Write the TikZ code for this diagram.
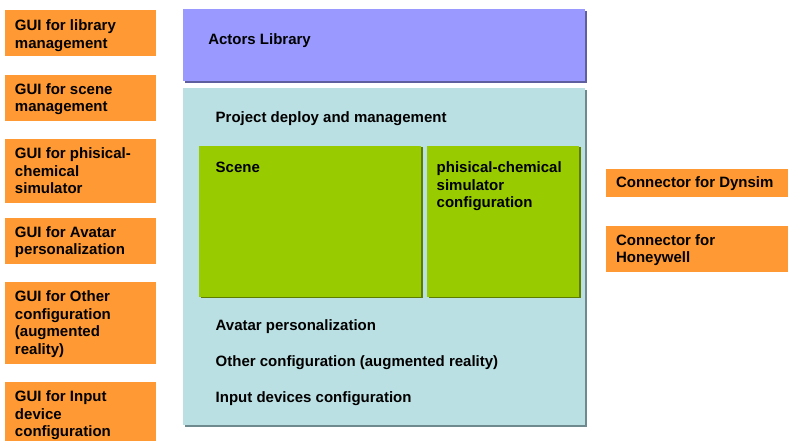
\documentclass[tikz,border=0pt]{standalone}
\usepackage{fontspec}
\setmainfont{Liberation Sans}
\usetikzlibrary{shadows}
\definecolor{orangeC}{HTML}{FF9933}
\definecolor{purpleC}{HTML}{9999FF}
\definecolor{purpleS}{HTML}{5F5FA0}
\definecolor{cyanC}{HTML}{BBE0E3}
\definecolor{cyanS}{HTML}{6E8A8E}
\definecolor{greenC}{HTML}{99CC00}
\definecolor{greenS}{HTML}{5E7D00}
\newcommand{\ml}[1]{\parbox[t]{170pt}{\raggedright #1}}
\begin{document}
\begin{tikzpicture}[x=1pt,y=-1pt,
  box/.style={draw=none, inner sep=0, outer sep=0, anchor=north west},
  obox/.style={box, fill=orangeC, minimum width=151},
  rbox/.style={box, fill=orangeC, minimum width=182},
  pbox/.style={box, fill=purpleC, general shadow={fill=purpleS, shadow xshift=2pt, shadow yshift=-2pt}},
  cbox/.style={box, fill=cyanC, general shadow={fill=cyanS, shadow xshift=2pt, shadow yshift=-2pt}},
  gbox/.style={box, fill=greenC, general shadow={fill=greenS, shadow xshift=1.5pt, shadow yshift=-1.5pt}},
  lbl/.style={inner sep=0, outer sep=0, anchor=base west, font=\bfseries\fontsize{15}{17.5}\selectfont}]
\useasboundingbox (0,0) rectangle (788,441);
\fill[white] (0,0) rectangle (788,441);

% left GUI boxes
\node[obox, minimum height=46] (g1) at (5,10) {};
\node[obox, minimum height=46] (g2) at (5,75) {};
\node[obox, minimum height=64] (g3) at (5,139) {};
\node[obox, minimum height=46] (g4) at (5,218) {};
\node[obox, minimum height=82] (g5) at (5,282) {};
\node[obox, minimum height=59] (g6) at (5,382) {};
\node[lbl] (g1t) at (15,30.7) {\ml{GUI for library\\management}};
\node[lbl] (g2t) at (15,94.5) {\ml{GUI for scene\\management}};
\node[lbl] (g3t) at (15,159) {\ml{GUI for phisical-\\chemical\\simulator}};
\node[lbl] (g4t) at (15,237.3) {\ml{GUI for Avatar\\personalization}};
\node[lbl] (g5t) at (15,301.7) {\ml{GUI for Other\\configuration\\(augmented\\reality)}};
\node[lbl] (g6t) at (15,401.7) {\ml{GUI for Input\\device\\configuration}};

% actors library
\node[pbox, minimum width=401.7, minimum height=72] (lib) at (183.3,9.3) {};
\node[lbl] (libt) at (208.3,44.3) {Actors Library};

% project box
\node[cbox, minimum width=401.7, minimum height=337] (proj) at (183.3,88) {};
\node[lbl] (projt) at (215.7,122.7) {Project deploy and management};
\node[gbox, minimum width=222, minimum height=151] (scene) at (199,145.7) {};
\node[gbox, minimum width=152, minimum height=151] (phys) at (427,145.7) {};
\node[lbl] (scenet) at (215.7,172.7) {Scene};
\node[lbl] (physt) at (436.7,172.7) {\ml{phisical-chemical\\simulator\\configuration}};
\node[lbl] (avat) at (215.7,330) {Avatar personalization};
\node[lbl] (othr) at (215.7,366.7) {Other configuration (augmented reality)};
\node[lbl] (inpt) at (215.7,402.7) {Input devices configuration};

% right connectors
\node[rbox, minimum height=28] (dyn) at (606,169) {};
\node[rbox, minimum height=46] (hon) at (606,226) {};
\node[lbl] (dynt) at (616,187.3) {Connector for Dynsim};
\node[lbl] (hont) at (616,245) {\ml{Connector for\\Honeywell}};
\end{tikzpicture}
\end{document}
